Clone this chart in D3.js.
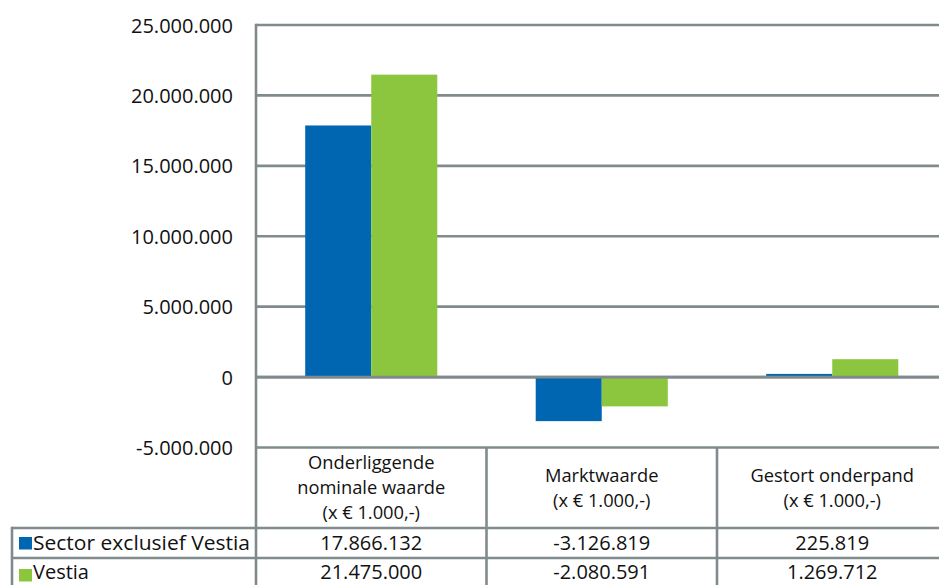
<!DOCTYPE html>
<html>
<head>
<meta charset="utf-8">
<script src="https://cdn.jsdelivr.net/npm/d3@7"></script>
<style>
  html, body { margin: 0; padding: 0; background: #fff; }
  svg { display: block; }
  text { font-family: "Open Sans", "Noto Sans", sans-serif; fill: #111; }
</style>
</head>
<body>
<svg id="chart" width="939" height="585"></svg>
<script>
// ---- data ----
const categories = ["Onderliggende nominale waarde", "Marktwaarde", "Gestort onderpand"];
const categoryLines = [
  ["Onderliggende", "nominale waarde", "(x € 1.000,-)"],
  ["Marktwaarde", "(x € 1.000,-)"],
  ["Gestort onderpand", "(x € 1.000,-)"]
];
const seriesNames = ["Sector exclusief Vestia", "Vestia"];
const sectorValues = [17866132, -3126819, 225819];
const vestiaValues = [21475000, -2080591, 1269712];
const yTicks = [-5000000, 0, 5000000, 10000000, 15000000, 20000000, 25000000];
const colors = ["#0066b1", "#8cc63f"];

// ---- setup ----
const nl = d3.formatLocale({decimal: ",", thousands: ".", grouping: [3], currency: ["€ ", ""], minus: "-"});
const fmt = nl.format(",d");
const seriesValues = [sectorValues, vestiaValues];

const svg = d3.select("#chart");
const left = 256, right = 947.5;
const yTop = 25, yBot = 447.5;
const gridColor = "#818b8d";
const gridW = 2.6;

const y = d3.scaleLinear().domain([-5000000, 25000000]).range([yBot, yTop]);
const x = d3.scaleBand().domain(categories).range([left, right]).paddingInner(0).paddingOuter(0);
const x1 = d3.scaleBand().domain(seriesNames).range([0, x.bandwidth()]).paddingInner(0).paddingOuter(0.745);

// gridlines
svg.append("g").selectAll("line").data(yTicks).join("line")
  .attr("x1", left).attr("x2", right)
  .attr("y1", d => y(d)).attr("y2", d => y(d))
  .attr("stroke", gridColor).attr("stroke-width", gridW);

// y axis labels
const yAxis = d3.axisLeft(y).tickValues(yTicks).tickFormat(fmt).tickSize(0).tickPadding(0);
const ga = svg.append("g").attr("transform", `translate(233,0)`).call(yAxis);
ga.select(".domain").remove();
ga.selectAll("text").attr("font-size", 20).attr("font-family", "'Open Sans', sans-serif").attr("fill", "#111").attr("dy", "0.35em");

// bars
const gBars = svg.append("g");
seriesNames.forEach((s, si) => {
  gBars.append("g").selectAll("rect").data(categories).join("rect")
    .attr("x", c => x(c) + x1(s))
    .attr("width", x1.bandwidth())
    .attr("y", (c, i) => y(Math.max(0, seriesValues[si][i])))
    .attr("height", (c, i) => Math.abs(y(seriesValues[si][i]) - y(0)))
    .attr("fill", colors[si]);
});

// zero line over bars
svg.append("line").attr("x1", left).attr("x2", right).attr("y1", y(0)).attr("y2", y(0))
  .attr("stroke", gridColor).attr("stroke-width", gridW);

// ---- data table ----
const rowTop = [yBot, 528, 558];
const tableBottom = 590;
const legendLeft = 12;

// vertical category separators
const sepXs = categories.map(c => x(c)).concat([right]);
svg.append("g").selectAll("line").data(sepXs).join("line")
  .attr("x1", d => d).attr("x2", d => d)
  .attr("y1", (d, i) => i === 0 ? yTop - gridW / 2 : yBot).attr("y2", tableBottom)
  .attr("stroke", gridColor).attr("stroke-width", gridW);

// horizontal row lines
svg.append("g").selectAll("line").data([rowTop[1], rowTop[2]]).join("line")
  .attr("x1", legendLeft).attr("x2", right)
  .attr("y1", d => d).attr("y2", d => d)
  .attr("stroke", gridColor).attr("stroke-width", gridW);
// legend column left border
svg.append("line").attr("x1", legendLeft).attr("x2", legendLeft)
  .attr("y1", rowTop[1] - gridW / 2).attr("y2", tableBottom)
  .attr("stroke", gridColor).attr("stroke-width", gridW);

// header labels
const hdr = svg.append("g");
categories.forEach((c, i) => {
  const lines = categoryLines[i];
  const cx = x(c) + x.bandwidth() / 2;
  const cy = 488;
  const lh = 25;
  lines.forEach((ln, j) => {
    hdr.append("text")
      .attr("x", cx)
      .attr("y", cy + (j - (lines.length - 1) / 2) * lh)
      .attr("dy", "0.35em")
      .attr("text-anchor", "middle")
      .attr("font-size", 18.3)
      .text(ln);
  });
});

// rows
const rowCenters = [543, 572];
seriesNames.forEach((s, si) => {
  const cy = rowCenters[si];
  svg.append("rect").attr("x", 19).attr("y", (si === 0 ? 543 : 575) - 6).attr("width", 13).attr("height", 12.5).attr("fill", colors[si]);
  const t = svg.append("text").attr("x", 33).attr("y", cy).attr("dy", "0.35em")
    .attr("font-size", 20)
    .text(s);
  if (si === 0) t.attr("textLength", 217).attr("lengthAdjust", "spacingAndGlyphs");
  categories.forEach((c, i) => {
    svg.append("text")
      .attr("x", x(c) + x.bandwidth() / 2)
      .attr("y", cy).attr("dy", "0.35em")
      .attr("text-anchor", "middle")
      .attr("font-size", 20)
      .text(fmt(seriesValues[si][i]));
  });
});
</script>
</body>
</html>
